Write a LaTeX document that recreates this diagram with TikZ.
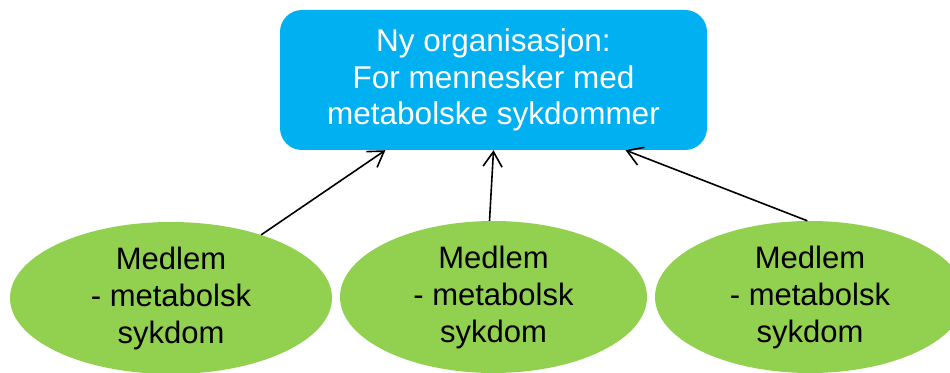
\documentclass[tikz,border=0pt]{standalone}
\usepackage{fontspec}
\setmainfont{Liberation Sans}
\usetikzlibrary{shapes.geometric,arrows.meta}
\definecolor{orgblue}{HTML}{00B0F0}
\definecolor{membergreen}{HTML}{92D050}
\tikzset{
  orgbox/.style={rectangle, rounded corners=22pt, fill=orgblue, text=white,
    minimum width=427pt, minimum height=140pt, inner sep=0pt, align=center,
    font=\fontsize{31.5}{36.5}\selectfont},
  member/.style={ellipse, fill=membergreen, text=black, inner sep=0pt,
    align=center, minimum height=152pt, font=\fontsize{31}{37}\selectfont},
  link/.style={line width=1.6pt, -{Straight Barb[length=15pt,width=19pt,line width=1.6pt]}}
}
\begin{document}
\begin{tikzpicture}[x=1pt,y=1pt]
  \useasboundingbox (0,0) rectangle (950,372);
  % umbrella organisation
  \node[orgbox] (org) at (493.5,292) {Ny organisasjon:\\For mennesker med\\metabolske sykdommer};
  % member associations
  \node[member, minimum width=322pt] (m1) at (171,74) {Medlem\\- metabolsk\\sykdom};
  \node[member, minimum width=307pt] (m2) at (493.5,75) {Medlem\\- metabolsk\\sykdom};
  \node[member, minimum width=310pt] (m3) at (810,75) {Medlem\\- metabolsk\\sykdom};
  % membership links
  \draw[link] (m1.35.5) -- (org.213.6);
  \draw[link] (m2.93) -- (org.270);
  \draw[link] (m3.92) -- (org.332.85);
\end{tikzpicture}
\end{document}
